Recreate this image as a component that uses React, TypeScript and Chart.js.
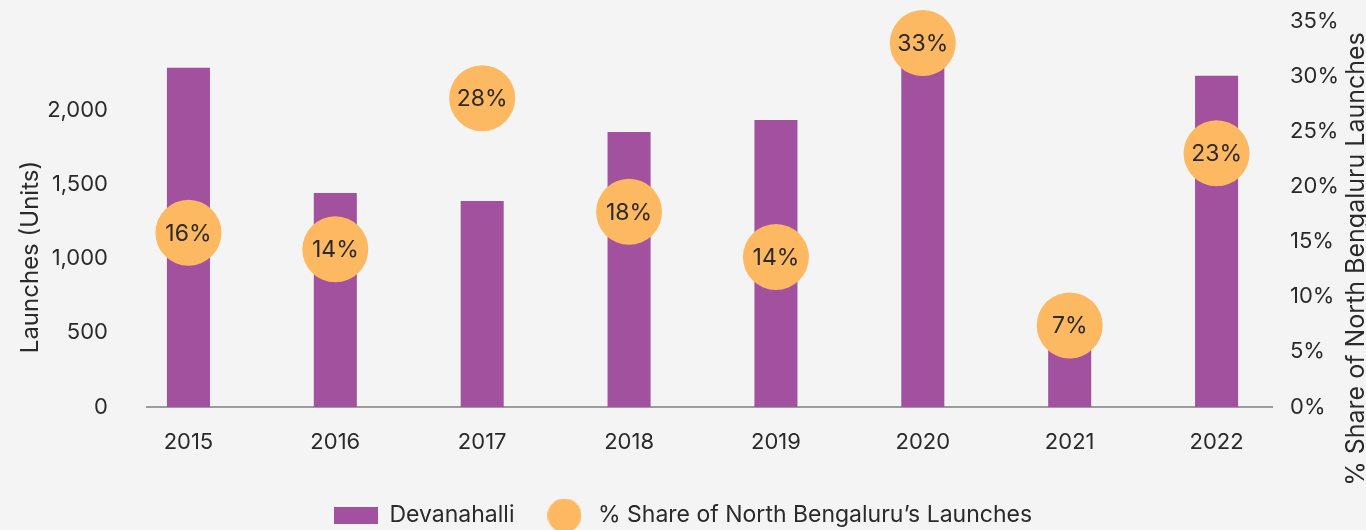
import React, { useEffect, useRef } from 'react';
import { Chart, registerables } from 'chart.js';

Chart.register(...registerables);

// ---- data ----
const years = ['2015', '2016', '2017', '2018', '2019', '2020', '2021', '2022'];
const launches = [2285, 1441, 1387, 1852, 1933, 2400, 450, 2231];
const sharePct = [15.8, 14.3, 28.0, 17.7, 13.6, 33.0, 7.4, 23.0];
const leftTicks = [0, 500, 1000, 1500, 2000];
const rightTicks = [0, 5, 10, 15, 20, 25, 30, 35];
const barLabel = 'Devanahalli';
const shareLabel = '% Share of North Bengaluru’s Launches';
const leftTitle = 'Launches (Units)';
const rightTitle = '% Share of North Bengaluru Launches';

// ---- styles ----
const FONT = 'Inter, "Noto Sans", sans-serif';
const TEXT = '#2a2a2a';
const BAR = '#A1519E';
const DOT = '#FDB961';
const BG = '#F4F4F4';
const AXIS = '#9C9C9C';

function makeRect(): HTMLCanvasElement {
  const c = document.createElement('canvas');
  c.width = 44;
  c.height = 17;
  const x = c.getContext('2d')!;
  x.fillStyle = BAR;
  x.fillRect(0, 0, 44, 17);
  return c;
}

function makeDot(): HTMLCanvasElement {
  const c = document.createElement('canvas');
  c.width = 34;
  c.height = 34;
  const x = c.getContext('2d')!;
  x.fillStyle = DOT;
  x.beginPath();
  x.arc(17, 17, 17, 0, Math.PI * 2);
  x.fill();
  return c;
}

// baseline of the category axis (slightly inset from the plot area, as in the original)
const baseLine = {
  id: 'baseLine',
  beforeDatasetsDraw(chart: any) {
    const { ctx, chartArea } = chart;
    const y = chart.scales.y.getPixelForValue(0);
    ctx.save();
    ctx.strokeStyle = AXIS;
    ctx.lineWidth = 2;
    ctx.beginPath();
    ctx.moveTo(chartArea.left + 31, y);
    ctx.lineTo(chartArea.right - 17, y);
    ctx.stroke();
    ctx.restore();
  },
};

const circleLabels = {
  id: 'circleLabels',
  afterDatasetsDraw(chart: any) {
    const meta = chart.getDatasetMeta(1);
    const ctx = chart.ctx;
    ctx.save();
    ctx.font = `23px ${FONT}`;
    ctx.fillStyle = TEXT;
    ctx.textAlign = 'center';
    ctx.textBaseline = 'middle';
    meta.data.forEach((pt: any, i: number) => {
      ctx.fillText(Math.round(sharePct[i]) + '%', pt.x, pt.y + 1);
    });
    ctx.restore();
  },
};

const axisTitles = {
  id: 'axisTitles',
  afterDraw(chart: any) {
    const ctx = chart.ctx;
    ctx.save();
    ctx.fillStyle = TEXT;
    ctx.textAlign = 'center';
    ctx.textBaseline = 'middle';
    ctx.save();
    ctx.font = `24px ${FONT}`;
    ctx.translate(31, 257);
    ctx.rotate(-Math.PI / 2);
    ctx.fillText(leftTitle, 0, 0);
    ctx.restore();
    ctx.save();
    ctx.font = `25px ${FONT}`;
    ctx.translate(1356, 259);
    ctx.rotate(-Math.PI / 2);
    ctx.fillText(rightTitle, 0, 0);
    ctx.restore();
    ctx.restore();
  },
};

function fixVertical(width: number) {
  return (s: any) => {
    s.width = width;
    s.paddingTop = 0;
    s.paddingBottom = 0;
  };
}

export default function App() {
  const ref = useRef<HTMLCanvasElement | null>(null);

  useEffect(() => {
    if (!ref.current) return;
    const rectImg = makeRect();
    const dotImg = makeDot();
    const chart = new Chart(ref.current, {
      type: 'bar',
      data: {
        labels: years,
        datasets: [
          {
            type: 'bar',
            label: barLabel,
            data: launches,
            backgroundColor: BAR,
            borderWidth: 0,
            barPercentage: 0.293,
            categoryPercentage: 1,
            yAxisID: 'y',
            order: 2,
          } as any,
          {
            type: 'line',
            label: shareLabel,
            data: sharePct,
            showLine: false,
            pointRadius: 33,
            pointHoverRadius: 33,
            pointBackgroundColor: DOT,
            pointBorderWidth: 0,
            pointBorderColor: DOT,
            yAxisID: 'y1',
            clip: false,
            order: 1,
          } as any,
        ],
      },
      options: {
        animation: false,
        responsive: true,
        maintainAspectRatio: false,
        events: [],
        layout: { autoPadding: false, padding: { top: 21, left: 0, right: 0, bottom: -7 } },
        scales: {
          x: {
            grid: { display: false, drawTicks: false },
            border: { display: false },
            ticks: { color: TEXT, font: { family: FONT, size: 22 }, padding: 22 },
            afterFit: (s: any) => { s.height = 69; },
          },
          y: {
            position: 'left',
            min: 0,
            max: 2600,
            grid: { display: false, drawTicks: false },
            border: { display: false },
            afterBuildTicks: (s: any) => { s.ticks = leftTicks.map((v) => ({ value: v })); },
            ticks: {
              color: TEXT,
              font: { family: FONT, size: 22 },
              padding: 7,
              callback: (v: any) => Number(v).toLocaleString('en-US'),
            },
            afterFit: fixVertical(115),
          },
          y1: {
            position: 'right',
            min: 0,
            max: 35,
            grid: { display: false, drawTicks: false },
            border: { display: false },
            afterBuildTicks: (s: any) => { s.ticks = rightTicks.map((v) => ({ value: v })); },
            ticks: {
              color: TEXT,
              font: { family: FONT, size: 22 },
              padding: 0,
              callback: (v: any) => v + '%',
            },
            afterFit: fixVertical(76),
          },
        },
        plugins: {
          tooltip: { enabled: false },
          legend: {
            display: true,
            position: 'bottom',
            labels: {
              color: TEXT,
              font: { family: FONT, size: 23 },
              usePointStyle: true,
              pointStyleWidth: 44,
              padding: 28,
              generateLabels: () => [
                { text: barLabel, pointStyle: rectImg, fillStyle: BAR, strokeStyle: BAR, lineWidth: 0, hidden: false, datasetIndex: 0, fontColor: TEXT } as any,
                { text: shareLabel, pointStyle: dotImg, fillStyle: DOT, strokeStyle: DOT, lineWidth: 0, hidden: false, datasetIndex: 1, fontColor: TEXT } as any,
              ],
            },
          },
        },
      },
      plugins: [baseLine, circleLabels, axisTitles],
    });
    return () => chart.destroy();
  }, []);

  return (
    <div style={{ position: 'fixed', left: 0, top: 0, width: 1366, height: 530, background: BG }}>
      <canvas ref={ref} />
    </div>
  );
}
